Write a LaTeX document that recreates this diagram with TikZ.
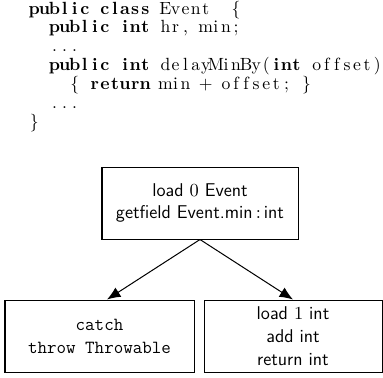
\documentclass[tikz,border=0pt]{standalone}
\usetikzlibrary{arrows.meta}
\ExplSyntaxOn
\NewDocumentCommand\fixc{m}{\tl_map_inline:nn {#1} {\makebox[6pt][c]{##1}}}
\ExplSyntaxOff
\newcommand\cgap{\hspace*{6pt}}
\tikzset{
  codeline/.style={anchor=base west, inner sep=0pt, font=\fontsize{10.5}{12}\selectfont\rmfamily},
  blockbox/.style={draw, line width=0.6pt, inner sep=0pt, align=center,
     font=\fontsize{11}{13.6}\selectfont\sffamily},
  flow/.style={line width=0.6pt, -{Latex[length=8pt,width=6.5pt]}}
}
\begin{document}
\begin{tikzpicture}[x=0.595pt,y=-0.595pt]
\useasboundingbox (0,0) rectangle (383,377);
% code
\node[codeline] (c1) at (29,14) {\textbf{\fixc{public}}\cgap\textbf{\fixc{class}}\cgap\fixc{Event}\cgap\cgap\fixc{\{}};
\node[codeline] (c2) at (29,32.9) {\cgap\cgap\textbf{\fixc{public}}\cgap\textbf{\fixc{int}}\cgap\fixc{hr,}\cgap\fixc{min;}};
\node[codeline] (c3) at (29,51.8) {\cgap\cgap\fixc{...}};
\node[codeline] (c4) at (29,70.7) {\cgap\cgap\textbf{\fixc{public}}\cgap\textbf{\fixc{int}}\cgap\fixc{delayMinBy(}\textbf{\fixc{int}}\cgap\fixc{offset)}};
\node[codeline] (c5) at (29,89.6) {\cgap\cgap\cgap\cgap\fixc{\{}\cgap\textbf{\fixc{return}}\cgap\fixc{min}\cgap\fixc{+}\cgap\fixc{offset;}\cgap\fixc{\}}};
\node[codeline] (c6) at (29,108.5) {\cgap\cgap\fixc{...}};
\node[codeline] (c7) at (29,127.4) {\fixc{\}}};
% blocks
\node[blockbox, minimum width=196*0.595pt, minimum height=72*0.595pt] (top) at (200,203)
  {load $0$ Event\\getfield Event.min$\,:\,$int};
\node[blockbox, minimum width=189*0.595pt, minimum height=72*0.595pt] (bl) at (99.5,336)
  {\texttt{catch}\\\texttt{throw Throwable}};
\node[blockbox, minimum width=178*0.595pt, minimum height=72*0.595pt] (br) at (293,336)
  {load $1$ int\\add int\\return int};
\draw[flow] (top.south) -- ([xshift=7.5*0.595pt]bl.north);
\draw[flow] (top.south) -- (br.north);
\end{tikzpicture}
\end{document}
